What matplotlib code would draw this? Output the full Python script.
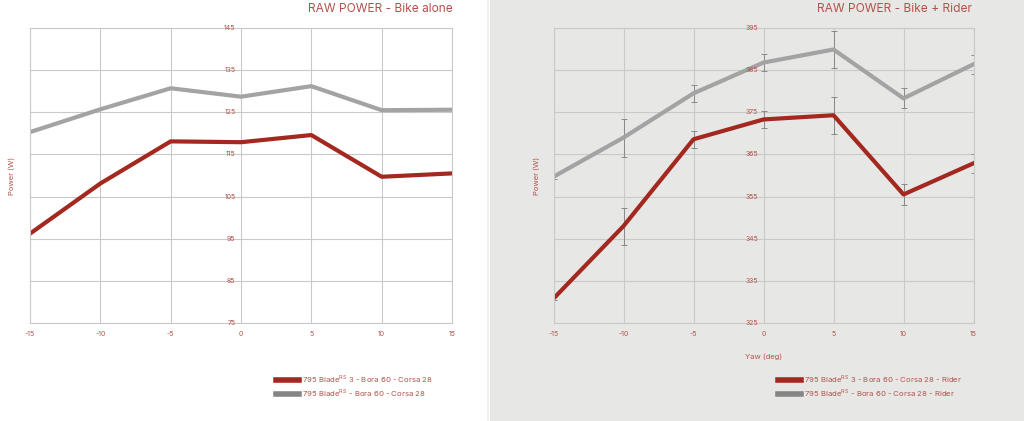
import matplotlib
matplotlib.use("Agg")
import matplotlib.pyplot as plt
from matplotlib.patches import Rectangle
from matplotlib.lines import Line2D

plt.rcParams['font.family'] = ['Inter', 'DejaVu Sans']

# Data
yaw = [-15, -10, -5, 0, 5, 10, 15]

bike_blade3 = [96.2, 108.1, 118.1, 117.9, 119.6, 109.7, 110.5]
bike_blade = [120.3, 125.7, 130.7, 128.7, 131.2, 125.5, 125.6]

rider_blade3 = [330.8, 348.0, 368.6, 373.3, 374.3, 355.5, 362.9]
rider_blade3_err = [0.4, 4.4, 2.0, 2.1, 4.35, 2.45, 2.3]
rider_blade = [359.7, 369.0, 379.5, 386.8, 389.9, 378.3, 386.4]
rider_blade_err = [0.5, 4.5, 2.0, 2.1, 4.4, 2.4, 2.3]

left_yticks = [75, 85, 95, 105, 115, 125, 135, 145]
right_yticks = [325, 335, 345, 355, 365, 375, 385, 395]
xticks = [-15, -10, -5, 0, 5, 10, 15]

RED = '#a3281f'
GRAY = '#a3a3a3'
GRAY_LEG = '#858585'
TXT = '#b4524b'
GRID = '#c9c9c9'
BG_RIGHT = '#e7e8e6'

fig = plt.figure(figsize=(10.24, 4.21), dpi=100)
fig.patch.set_facecolor('white')
fig.patches.append(Rectangle((490 / 1024, 0), 1 - 490 / 1024, 1, transform=fig.transFigure,
                             facecolor=BG_RIGHT, edgecolor='none', zorder=-10))
fig.patches.append(Rectangle((487 / 1024, 0), 2 / 1024, 1, transform=fig.transFigure,
                             facecolor='#f0f0f0', edgecolor='none', zorder=-10))


def style_axes(ax, yticks, face):
    ax.set_facecolor(face)
    ax.set_xlim(-15, 15)
    ax.set_ylim(yticks[0], yticks[-1])
    ax.set_xticks(xticks)
    ax.set_yticks(yticks)
    ax.grid(True, color=GRID, linewidth=0.8)
    ax.set_axisbelow(True)
    for s in ax.spines.values():
        s.set_color(GRID)
        s.set_linewidth(0.8)
    ax.tick_params(length=0, labelsize=5, colors=TXT, pad=6)
    ax.set_yticklabels([])
    ax.set_xticklabels([str(t) for t in xticks])
    # y tick labels sit next to the 0 line
    for v in yticks:
        ax.annotate(str(v), (0, v), xytext=(-4, 0), textcoords='offset points',
                    ha='right', va='center', fontsize=5, color=TXT)
    ax.set_ylabel('Power (W)', color=TXT, fontsize=5.5, labelpad=8)


# Left: bike alone
ax1 = fig.add_axes([30 / 1024, 1 - 323 / 421, 422 / 1024, 295 / 421])
style_axes(ax1, left_yticks, 'white')
ax1.plot(yaw, bike_blade, color=GRAY, linewidth=3, solid_capstyle='butt')
ax1.plot(yaw, bike_blade3, color=RED, linewidth=3, solid_capstyle='butt')
ax1.yaxis.set_label_coords(-0.036, 0.5)
fig.text(453 / 1024, 1 - 9 / 421, 'RAW POWER - Bike alone', ha='right', va='center',
         fontsize=8.6, color=TXT)

# Right: bike + rider
ax2 = fig.add_axes([553.5 / 1024, 1 - 323 / 421, 420 / 1024, 295 / 421])
style_axes(ax2, right_yticks, BG_RIGHT)
ax2.errorbar(yaw, rider_blade, yerr=rider_blade_err, color=GRAY, linewidth=3,
             ecolor='#8a8a8a', elinewidth=0.7, capsize=2, capthick=0.7)
ax2.errorbar(yaw, rider_blade3, yerr=rider_blade3_err, color=RED, linewidth=3,
             ecolor='#8a8a8a', elinewidth=0.7, capsize=2, capthick=0.7)
ax2.yaxis.set_label_coords(-0.032, 0.5)
ax2.set_xlabel('Yaw (deg)', color=TXT, fontsize=5.5, labelpad=12)
fig.text(972 / 1024, 1 - 9 / 421, 'RAW POWER - Bike + Rider', ha='right', va='center',
         fontsize=8.6, color=TXT)

# Legends
sup = r'$^{\mathregular{RS}}$'
leg1 = [Line2D([], [], color=RED, linewidth=4), Line2D([], [], color=GRAY_LEG, linewidth=4)]
fig.legend(leg1, ['795 Blade' + sup + ' 3 - Bora 60 - Corsa 28',
                  '795 Blade' + sup + ' - Bora 60 - Corsa 28'],
           loc='upper left', bbox_to_anchor=(272 / 1024, 1 - 369 / 421), frameon=False,
           fontsize=5.6, labelcolor=TXT, handlelength=3.0, handletextpad=0.4,
           labelspacing=0.3, borderpad=0)
fig.legend(leg1, ['795 Blade' + sup + ' 3 - Bora 60 - Corsa 28 - Rider',
                  '795 Blade' + sup + ' - Bora 60 - Corsa 28 - Rider'],
           loc='upper left', bbox_to_anchor=(774 / 1024, 1 - 369 / 421), frameon=False,
           fontsize=5.6, labelcolor=TXT, handlelength=3.0, handletextpad=0.4,
           labelspacing=0.3, borderpad=0)

fig.savefig('out.png', dpi=100)
